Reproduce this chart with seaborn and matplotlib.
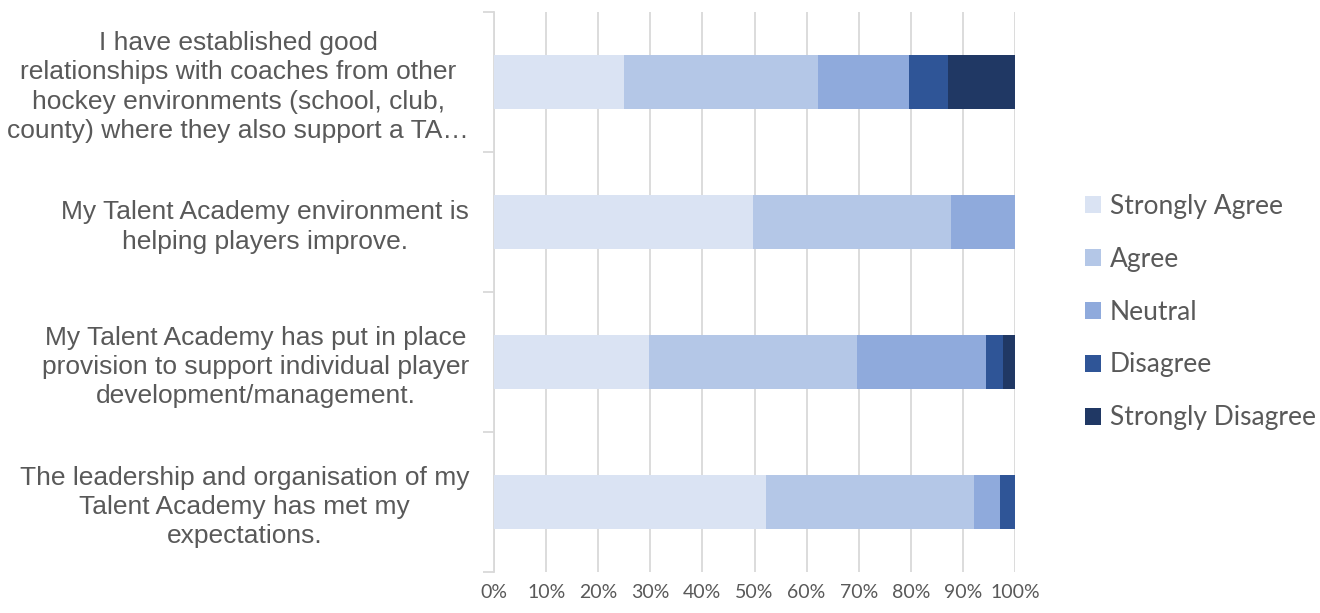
import matplotlib
matplotlib.use("Agg")
import matplotlib.pyplot as plt
import seaborn as sns
import pandas as pd
import numpy as np
from matplotlib.patches import Patch

# ------------------------------- Data ----------------------------------------------

questions = [
    "I have established good\nrelationships with coaches from other\nhockey environments (school, club,\ncounty) where they also support a TA…",
    "My Talent Academy environment is\nhelping players improve.",
    "My Talent Academy has put in place\nprovision to support individual player\ndevelopment/management.",
    "The leadership and organisation of my\nTalent Academy has met my\nexpectations.",
]
responses = ["Strongly Agree", "Agree", "Neutral", "Disagree", "Strongly Disagree"]

strongly_agree = [25.0, 49.7, 29.8, 52.2]
agree = [37.2, 38.0, 39.9, 39.9]
neutral = [17.5, 12.3, 24.8, 5.0]
disagree = [7.4, 0.0, 3.2, 2.9]
strongly_disagree = [12.9, 0.0, 2.3, 0.0]

colors = ["#DAE3F3", "#B4C7E7", "#8FAADC", "#2F5597", "#203864"]
text_color = "#595959"
grid_color = "#D9D9D9"

# ------------------------------- Visualization ----------------------------------------------

df = pd.DataFrame({
    "question": questions,
    "Strongly Agree": strongly_agree,
    "Agree": agree,
    "Neutral": neutral,
    "Disagree": disagree,
    "Strongly Disagree": strongly_disagree,
})
cum = df[responses].cumsum(axis=1)
# normalise to 100 %
cum = cum.div(cum[responses[-1]], axis=0) * 100

sns.set_theme(style="white")
plt.rcParams["font.family"] = ["Liberation Sans", "DejaVu Sans"]

fig = plt.figure(figsize=(13.2, 6.13), dpi=100)
ax = fig.add_axes([494 / 1320, 1 - 572 / 613, 521 / 1320, 560 / 613])

# stacked bars: draw widest cumulative first so the smaller ones sit on top
for resp, col in reversed(list(zip(responses, colors))):
    sns.barplot(x=cum[resp], y=df["question"], color=col, orient="h",
                width=0.39, saturation=1, linewidth=0, ax=ax, zorder=3)

ax.set_xlim(0, 100)
ax.set_ylim(3.5, -0.5)
ax.set_xlabel("")
ax.set_ylabel("")

ax.set_xticks(np.arange(0, 101, 10))
ax.set_xticklabels([f"{v}%" for v in range(0, 101, 10)], family=["Lato", "DejaVu Sans"],
                   fontsize=14, color=text_color)
ax.tick_params(axis="x", length=0, pad=9)
ax.xaxis.grid(True, color=grid_color, linewidth=1.3, zorder=0)
ax.set_axisbelow(True)

ax.set_yticks(range(len(questions)))
ax.set_yticklabels(questions, fontsize=19, color=text_color, ha="right",
                   multialignment="center", linespacing=1.28)
ax.set_yticks(np.arange(-0.5, 4, 1), minor=True)
ax.tick_params(axis="y", which="major", length=0, pad=18)
ax.tick_params(axis="y", which="minor", length=8, width=1.3, color=grid_color, left=True)

for side in ["top", "right", "bottom"]:
    ax.spines[side].set_visible(False)
ax.spines["left"].set_color(grid_color)
ax.spines["left"].set_linewidth(1.3)

handles = [Patch(facecolor=c, edgecolor="none", label=r) for r, c in zip(responses, colors)]
leg = fig.legend(handles=handles, loc="center left", bbox_to_anchor=(1061 / 1320, 1 - 312 / 613),
                 frameon=False, prop={"family": ["Lato", "DejaVu Sans"], "size": 19},
                 handlelength=0.6, handleheight=0.6, handletextpad=0.34, labelspacing=1.06)
for t in leg.get_texts():
    t.set_color(text_color)

fig.savefig("out.png", dpi=100, facecolor="white")
